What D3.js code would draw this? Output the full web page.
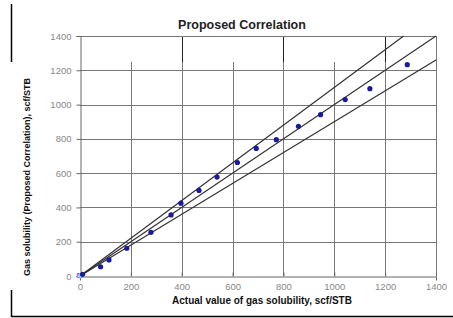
<!DOCTYPE html>
<html>
<head>
<meta charset="utf-8">
<script src="https://cdn.jsdelivr.net/npm/d3@7"></script>
<style>
  body { margin: 0; background: #fff; }
  svg { display: block; font-family: "Liberation Sans", Arial, sans-serif; }
</style>
</head>
<body>
<svg id="chart" width="453" height="318"></svg>
<script>
// values
const actual   = [10, 81, 114, 184, 279, 358, 397, 468, 539, 619, 693, 772, 859, 946, 1043, 1140, 1287];
const proposed = [10, 54, 94, 162, 255, 356, 425, 499, 577, 662, 744, 795, 873, 941, 1029, 1093, 1233];
const xTicks = [0, 200, 400, 600, 800, 1000, 1200, 1400];
const yTicks = [0, 200, 400, 600, 800, 1000, 1200, 1400];
const boundSlopes = [1.1, 1.0, 0.9];

const MARGIN = {top: 36, right: 17, bottom: 42, left: 80};
const WIDTH = 453, HEIGHT = 318;

const svg = d3.select('#chart');

const xScale = d3.scaleLinear().domain([0, 1400])
    .range([MARGIN.left, WIDTH - MARGIN.right]);
const yScale = d3.scaleLinear().domain([0, 1400])
    .range([HEIGHT - MARGIN.bottom, MARGIN.top]);

// outer frame (left part is hidden behind the y title)
svg.append('line').attr('x1', 11.5).attr('x2', 11.5).attr('y1', 4).attr('y2', 62)
    .attr('stroke', '#000').attr('stroke-width', 1.5);
svg.append('line').attr('x1', 11.5).attr('x2', 11.5).attr('y1', 290).attr('y2', 317)
    .attr('stroke', '#000').attr('stroke-width', 1.5);
svg.append('line').attr('x1', 11).attr('x2', 453).attr('y1', 316.5).attr('y2', 316.5)
    .attr('stroke', '#000').attr('stroke-width', 1.5);

// grid
const grid = svg.append('g');
grid.selectAll('.vg').data(xTicks.slice(1, -1)).join('line')
    .attr('x1', d => Math.round(xScale(d)) + 0.5).attr('x2', d => Math.round(xScale(d)) + 0.5)
    .attr('y1', d => (d === 400 || d === 800 || d === 1200) ? yScale(1400) : 62)
    .attr('y2', yScale(0))
    .attr('stroke', '#777');
grid.selectAll('.vgd').data([400, 800, 1200]).join('line')
    .attr('x1', d => Math.round(xScale(d)) + 0.5).attr('x2', d => Math.round(xScale(d)) + 0.5)
    .attr('y1', yScale(1400)).attr('y2', 62)
    .attr('stroke', '#222');
grid.selectAll('.hg').data(yTicks.slice(1)).join('line')
    .attr('x1', xScale(0)).attr('x2', xScale(1400))
    .attr('y1', d => Math.round(yScale(d)) + 0.5).attr('y2', d => Math.round(yScale(d)) + 0.5)
    .attr('stroke', '#777');
grid.append('line')
    .attr('x1', Math.round(xScale(1400)) + 0.5).attr('x2', Math.round(xScale(1400)) + 0.5)
    .attr('y1', yScale(1400)).attr('y2', yScale(0))
    .attr('stroke', '#777');

// axes
const xAxis = d3.axisBottom(xScale).tickValues(xTicks).tickFormat(d3.format('d')).tickSize(4).tickPadding(3);
const yAxis = d3.axisLeft(yScale).tickValues(yTicks).tickFormat(d3.format('d')).tickSize(4).tickPadding(5);

svg.append('g')
    .attr('transform', `translate(0, ${Math.round(yScale(0)) + 0.5})`)
    .call(xAxis)
    .call(g => g.select('.domain').attr('stroke', '#666'))
    .call(g => g.selectAll('.tick line').attr('stroke', '#666').attr('transform', 'translate(0,-4)'))
    .call(g => g.selectAll('.tick text').attr('fill', '#888').style('font-size', '9.5px'));

svg.append('g')
    .attr('transform', `translate(${Math.round(xScale(0)) + 0.5}, 0)`)
    .call(yAxis)
    .call(g => g.select('.domain').attr('stroke', '#666'))
    .call(g => g.selectAll('.tick line').attr('stroke', '#666'))
    .call(g => g.selectAll('.tick text').attr('fill', '#888').style('font-size', '9.5px'));

// +/- 10% lines and the unit line
const lineGen = d3.line().x(d => xScale(d[0])).y(d => yScale(d[1]));
svg.append('g').selectAll('path').data(boundSlopes).join('path')
    .attr('d', s => lineGen([[0, 0], [Math.min(1400, 1400 / s), Math.min(1400, 1400 * s)]]))
    .attr('fill', 'none').attr('stroke', '#333').attr('stroke-width', 1.2);

// origin markers of the other series
const origin = [xScale(0), yScale(0)];
svg.append('rect').attr('x', origin[0] - 3).attr('y', origin[1] - 3).attr('width', 5).attr('height', 5)
    .attr('fill', '#ff33ff');
svg.append('path').attr('d', d3.symbol(d3.symbolTriangle, 22)())
    .attr('transform', `translate(${origin[0] + 1},${origin[1] - 1})`).attr('fill', '#ffff33');
svg.append('path').attr('d', d3.symbol(d3.symbolCross, 14)())
    .attr('transform', `translate(${origin[0]},${origin[1]})`).attr('fill', '#33ffff');

// data points
svg.append('g').selectAll('circle').data(actual).join('circle')
    .attr('cx', d => xScale(d))
    .attr('cy', (d, i) => yScale(proposed[i]))
    .attr('r', 2.6)
    .attr('fill', '#1a1a9a');

// titles
svg.append('text').attr('x', 242).attr('y', 29).attr('text-anchor', 'middle')
    .style('font-size', '12.5px').style('font-weight', 'bold').attr('fill', '#222')
    .text('Proposed Correlation');

svg.append('text').attr('x', 262).attr('y', 304).attr('text-anchor', 'middle')
    .style('font-size', '10px').style('font-weight', 'bold').attr('fill', '#111')
    .text('Actual value of gas solubility, scf/STB');

svg.append('text').attr('transform', 'translate(30, 177) rotate(-90)').attr('text-anchor', 'middle')
    .style('font-size', '9px').style('font-weight', 'bold').attr('fill', '#111')
    .text('Gas solubility (Proposed Correlation), scf/STB');
</script>
</body>
</html>
